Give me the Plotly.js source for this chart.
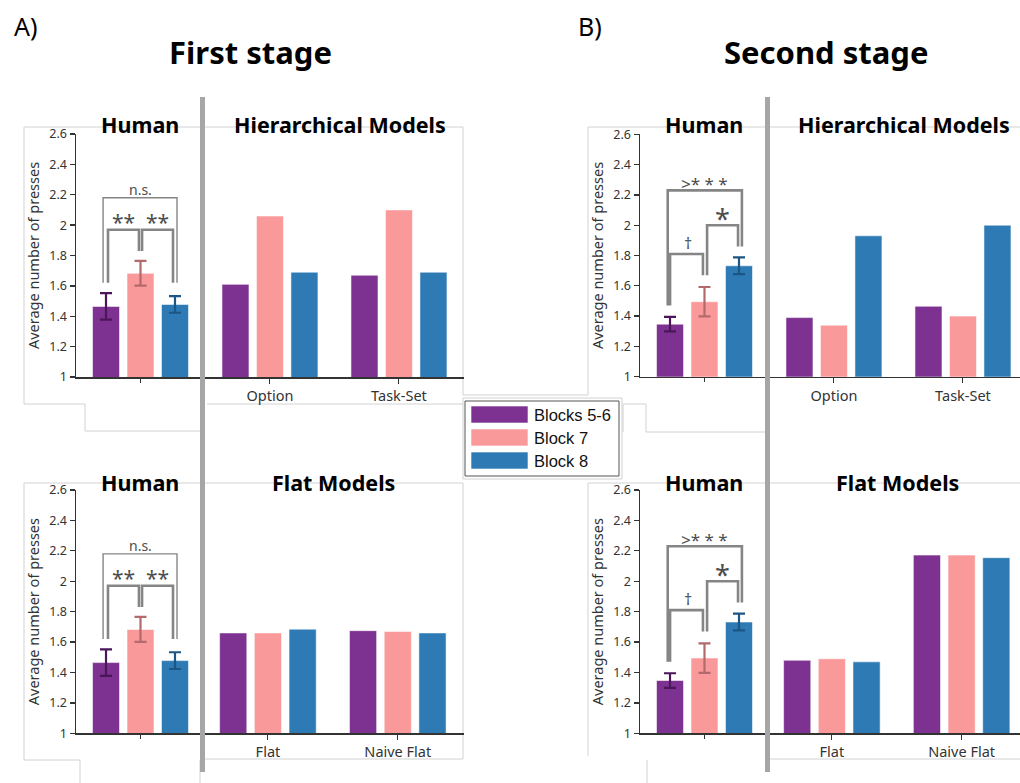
<!DOCTYPE html>
<html><head><meta charset="utf-8">
<script src="https://cdn.plot.ly/plotly-3.0.1.min.js"></script>
<style>html,body{margin:0;padding:0;background:#fff}#chart{width:1020px;height:783px}</style>
</head><body><div id="chart"></div><script>
// ---------- data ----------
const series = ['Blocks 5-6', 'Block 7', 'Block 8'];
const hierCategories = ['Option', 'Task-Set'];
const flatCategories = ['Flat', 'Naive Flat'];
const yTicks = [1, 1.2, 1.4, 1.6, 1.8, 2, 2.2, 2.4, 2.6];

// Human, first stage (means and error half-widths per block)
const human1Means = [1.465, 1.683, 1.478];
const human1Err = [0.087, 0.082, 0.055];
// Human, second stage
const human2Means = [1.347, 1.495, 1.732];
const human2Err = [0.048, 0.097, 0.055];

// Hierarchical models, first stage: one array per block, values per category
const hier1Blocks56 = [1.61, 1.67];
const hier1Block7 = [2.06, 2.10];
const hier1Block8 = [1.69, 1.69];
// Flat models, first stage
const flat1Blocks56 = [1.66, 1.675];
const flat1Block7 = [1.66, 1.67];
const flat1Block8 = [1.685, 1.66];
// Hierarchical models, second stage
const hier2Blocks56 = [1.39, 1.465];
const hier2Block7 = [1.34, 1.40];
const hier2Block8 = [1.93, 2.00];
// Flat models, second stage
const flat2Blocks56 = [1.48, 2.172];
const flat2Block7 = [1.49, 2.172];
const flat2Block8 = [1.47, 2.155];

// significance labels
const sig1Labels = ['**', '**', 'n.s.'];
const sig2Labels = ['\u2020', '*', '>* * *'];

// ---------- style ----------
const colors = ['#7D3190', '#FA9999', '#2D7AB4'];
const errColors = ['#4B175A', '#B26A6D', '#1D5585'];
const W = 1020, H = 783;
const PX = v => v / W, PY = v => 1 - v / H;
const FONT = 'Noto Sans, Open Sans, sans-serif';
const AX = '#333333';

const traces = [];
function humanTraces(means, errs, ax) {
  series.forEach((name, i) => {
    traces.push({
      type: 'bar', name: name, x: ['Human'], y: [means[i]],
      xaxis: 'x' + ax, yaxis: 'y' + ax,
      marker: {color: colors[i], line: {color: 'rgba(255,255,255,0.55)', width: 1}},
      error_y: {type: 'data', array: [errs[i]], color: errColors[i], thickness: 2.2, width: 6},
      hoverinfo: 'y', showlegend: false
    });
  });
}
function modelTraces(cats, vals, ax) {
  series.forEach((name, i) => {
    traces.push({
      type: 'bar', name: name, x: cats, y: vals[i],
      xaxis: 'x' + ax, yaxis: 'y' + ax,
      marker: {color: colors[i], line: {color: 'rgba(255,255,255,0.55)', width: 1}},
      hoverinfo: 'y', showlegend: false
    });
  });
}
humanTraces(human1Means, human1Err, '');
modelTraces(hierCategories, [hier1Blocks56, hier1Block7, hier1Block8], '2');
humanTraces(human2Means, human2Err, '3');
modelTraces(hierCategories, [hier2Blocks56, hier2Block7, hier2Block8], '4');
humanTraces(human1Means, human1Err, '5');
modelTraces(flatCategories, [flat1Blocks56, flat1Block7, flat1Block8], '6');
humanTraces(human2Means, human2Err, '7');
modelTraces(flatCategories, [flat2Blocks56, flat2Block7, flat2Block8], '8');

// panel geometry in pixels
const rowTop = {top: [134, 377], bot: [490, 733.3]};
function ydom(r) { return [PY(r[1]), PY(r[0])]; }

function humanX(x0, x1, anchor) {
  return {domain: [PX(x0), PX(x1)], range: [-0.5, 0.4845], anchor: anchor,
    showline: true, linecolor: AX, linewidth: 1.5, ticks: 'outside', ticklen: 4, tickcolor: AX,
    showticklabels: false, showgrid: false, zeroline: false, fixedrange: true};
}
function humanY(r, anchor) {
  return {domain: ydom(r), range: [1, 2.6], anchor: anchor, tickvals: yTicks,
    ticks: 'outside', ticklen: 5, tickwidth: 1.3, tickcolor: AX,
    showline: true, linecolor: AX, linewidth: 1.5, showgrid: false, zeroline: false,
    tickfont: {size: 12.5, color: AX, family: FONT},
    title: {text: 'Average number of presses', font: {size: 14.5, color: AX, family: FONT}, standoff: 6},
    fixedrange: true};
}
function modelX(x0, x1, range, anchor) {
  return {domain: [PX(x0), PX(x1)], range: range, anchor: anchor, type: 'category',
    showline: true, linecolor: AX, linewidth: 1.5, ticks: 'outside', ticklen: 5, tickcolor: AX,
    tickfont: {size: 14.5, color: AX, family: FONT}, showgrid: false, zeroline: false, fixedrange: true};
}
function modelY(r, anchor) {
  return {domain: ydom(r), range: [1, 2.6], anchor: anchor, visible: false, fixedrange: true};
}

// significance brackets (data coords on human panels)
const bracketGeom1 = [
  {x0: -0.252, x1: -0.012, top: 1.97, l: 1.62, r: 1.83, lx: -0.132, ly: 2.02, size: 21, w: 2.6},
  {x0: 0.012, x1: 0.252, top: 1.97, l: 1.83, r: 1.62, lx: 0.132, ly: 2.02, size: 21, w: 2.6},
  {x0: -0.29, x1: 0.283, top: 2.18, l: 1.62, r: 1.62, lx: 0, ly: 2.235, size: 14, w: 1.4}
];
const bracketGeom2 = [
  {x0: -0.267, x1: -0.012, top: 1.81, l: 1.47, r: 1.67, lx: -0.13, ly: 1.885, size: 16, w: 2.6},
  {x0: 0.02, x1: 0.26, top: 2.0, l: 1.67, r: 1.86, lx: 0.14, ly: 2.045, size: 27, w: 2.6},
  {x0: -0.285, x1: 0.29, top: 2.23, l: 1.47, r: 1.86, lx: 0, ly: 2.275, size: 17, w: 2.6}
];

const shapes = [];
const annotations = [];
function addBrackets(geom, labels, ax) {
  geom.forEach((g, i) => {
    shapes.push({type: 'path', xref: 'x' + ax, yref: 'y' + ax,
      path: `M${g.x0},${g.l} L${g.x0},${g.top} L${g.x1},${g.top} L${g.x1},${g.r}`,
      line: {color: '#858585', width: g.w}, layer: 'above'});
    annotations.push({xref: 'x' + ax, yref: 'y' + ax, x: g.lx, y: g.ly, text: labels[i],
      showarrow: false, xanchor: 'center', yanchor: 'middle',
      font: {size: g.size, color: '#4d4d4d', family: FONT}});
  });
}
addBrackets(bracketGeom1, sig1Labels, '');
addBrackets(bracketGeom2, sig2Labels, '3');
addBrackets(bracketGeom1, sig1Labels, '5');
addBrackets(bracketGeom2, sig2Labels, '7');

// faint panel outlines (pixel coordinates)
const outlinePaths = [
  [[24,127],[463,127],[463,395],[588,395],[588,127],[1020,127]],
  [[24,127],[24,404],[85,404],[85,431],[203,431]],
  [[207,404],[463,404]],
  [[623,432],[623,404],[646,404],[646,432],[767,432]],
  [[24,483],[463,483],[463,759],[203,759]],
  [[24,483],[24,760],[80,760],[80,783]],
  [[588,483],[1020,483]],
  [[588,483],[588,756]],
  [[767,759],[1020,759]],
  [[647,760],[647,783]],
  [[200,760],[200,783]]
];
outlinePaths.forEach(p => {
  shapes.push({type: 'path', xref: 'paper', yref: 'paper', layer: 'below',
    path: p.map((pt, k) => (k ? 'L' : 'M') + PX(pt[0]) + ',' + PY(pt[1])).join(' '),
    line: {color: '#d2d2d2', width: 1}});
});
// thick gray dividers
[202.5, 767.5].forEach(x => {
  shapes.push({type: 'line', xref: 'paper', yref: 'paper', x0: PX(x), x1: PX(x), y0: PY(97), y1: PY(772),
    line: {color: '#a6a6a6', width: 5}, layer: 'above'});
});

// manual legend
const legBox = {x0: 465, x1: 619, y0: 401, y1: 476};
shapes.push({type: 'rect', xref: 'paper', yref: 'paper', x0: PX(463), x1: PX(622), y0: PY(398), y1: PY(479),
  line: {color: '#d2d2d2', width: 1}, fillcolor: '#fff', layer: 'below'});
shapes.push({type: 'rect', xref: 'paper', yref: 'paper', x0: PX(legBox.x0), x1: PX(legBox.x1), y0: PY(legBox.y0), y1: PY(legBox.y1),
  line: {color: '#555', width: 1}, fillcolor: '#fff', layer: 'above'});
series.forEach((name, i) => {
  const cy = 414.5 + i * 23;
  shapes.push({type: 'rect', xref: 'paper', yref: 'paper', x0: PX(471), x1: PX(528), y0: PY(cy + 8.5), y1: PY(cy - 8.5),
    fillcolor: colors[i], line: {color: 'rgba(255,255,255,0.6)', width: 1}, layer: 'above'});
  annotations.push({xref: 'paper', yref: 'paper', x: PX(532), y: PY(cy), text: name, showarrow: false,
    xanchor: 'left', yanchor: 'middle', font: {size: 16.5, color: '#111', family: 'Liberation Sans, Arial, sans-serif'}});
});

// titles
function title(text, x, y, size, bold) {
  annotations.push({xref: 'paper', yref: 'paper', x: PX(x), y: PY(y), text: bold ? '<b>' + text + '</b>' : text,
    showarrow: false, xanchor: 'center', yanchor: 'middle', font: {size: size, color: '#000', family: FONT}});
}
title('A)', 25.5, 26, 25, false);
title('B)', 589.5, 26, 25, false);
title('First stage', 250.5, 52, 31, true);
title('Second stage', 825.5, 52, 31, true);
title('Human', 139.5, 125, 21.5, true);
title('Hierarchical Models', 340, 125, 21.5, true);
title('Human', 703.5, 125, 21.5, true);
title('Hierarchical Models', 904, 125, 21.5, true);
title('Human', 139.5, 482, 21.5, true);
title('Flat Models', 333.5, 482, 21.5, true);
title('Human', 703.5, 482, 21.5, true);
title('Flat Models', 897, 482, 21.5, true);

const layout = {
  width: W, height: H, margin: {l: 0, r: 0, t: 0, b: 0},
  paper_bgcolor: '#ffffff', plot_bgcolor: 'rgba(0,0,0,0)',
  showlegend: false, barmode: 'group', bargap: 0.198, bargroupgap: 0.217,
  font: {family: FONT, color: AX},
  xaxis: humanX(76, 203, 'y'), yaxis: humanY(rowTop.top, 'x'),
  xaxis2: modelX(203, 464, [-0.519, 1.504], 'y2'), yaxis2: modelY(rowTop.top, 'x2'),
  xaxis3: humanX(640, 767, 'y3'), yaxis3: humanY([134.3, 376.7], 'x3'),
  xaxis4: modelX(767, 1020, [-0.519, 1.442], 'y4'), yaxis4: modelY([134.3, 376.7], 'x4'),
  xaxis5: humanX(76, 203, 'y5'), yaxis5: humanY(rowTop.bot, 'x5'),
  xaxis6: modelX(203, 464, [-0.5, 1.51], 'y6'), yaxis6: modelY(rowTop.bot, 'x6'),
  xaxis7: humanX(640, 767, 'y7'), yaxis7: humanY(rowTop.bot, 'x7'),
  xaxis8: modelX(767, 1020, [-0.5, 1.45], 'y8'), yaxis8: modelY(rowTop.bot, 'x8'),
  shapes: shapes, annotations: annotations
};
Plotly.newPlot('chart', traces, layout, {displayModeBar: false, staticPlot: true});
</script></body></html>
